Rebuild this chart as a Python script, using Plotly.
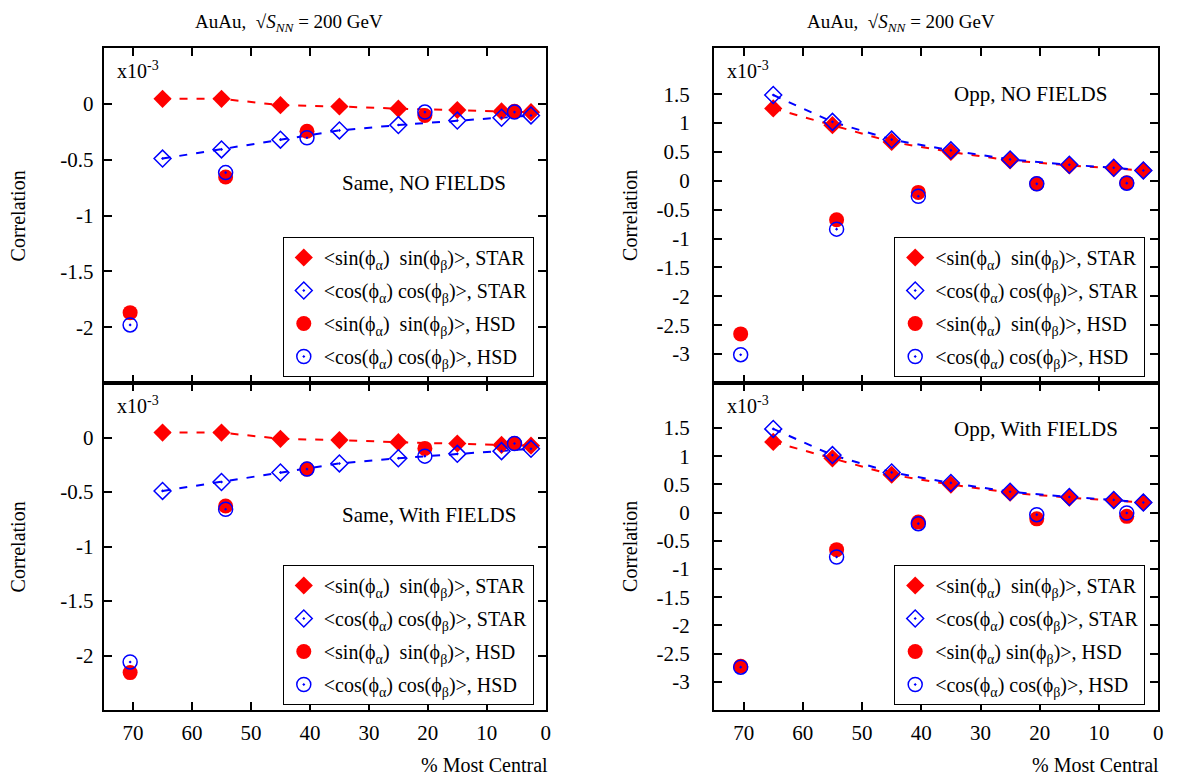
import plotly.graph_objects as go

# ---------------- data (x10^-3) ----------------
x_star = [65, 55, 45, 35, 25, 15, 7.5, 2.5]
x_hsd = [70.5, 54.3, 40.5, 20.5, 5.3]

same_star_sin = [0.045, 0.045, -0.012, -0.024, -0.043, -0.055, -0.068, -0.075]
same_star_cos = [-0.49, -0.408, -0.321, -0.238, -0.19, -0.15, -0.125, -0.104]
same_nf_hsd_sin = [-1.87, -0.655, -0.245, -0.104, -0.067]
same_nf_hsd_cos = [-1.98, -0.616, -0.304, -0.074, -0.074]
same_wf_hsd_sin = [-2.157, -0.628, -0.29, -0.10, -0.055]
same_wf_hsd_cos = [-2.06, -0.658, -0.29, -0.171, -0.055]

opp_star_sin = [1.254, 0.964, 0.673, 0.499, 0.354, 0.267, 0.221, 0.18]
opp_star_cos = [1.486, 1.021, 0.714, 0.528, 0.371, 0.279, 0.226, 0.18]
opp_nf_hsd_sin = [-2.65, -0.674, -0.2, -0.052, -0.035]
opp_nf_hsd_cos = [-3.01, -0.836, -0.267, -0.052, -0.04]
opp_wf_hsd_sin = [-2.725, -0.656, -0.167, -0.11, -0.065]
opp_wf_hsd_cos = [-2.74, -0.786, -0.195, -0.035, -0.006]

x_ticks = [70, 60, 50, 40, 30, 20, 10, 0]
same_yticks = [0, -0.5, -1, -1.5, -2]
opp_yticks = [1.5, 1, 0.5, 0, -0.5, -1, -1.5, -2, -2.5, -3]

panel_labels = ["Same, NO FIELDS", "Opp, NO FIELDS", "Same, With FIELDS", "Opp, With FIELDS"]
SS = "&lt;sin(\u03d5<sub>\u03b1</sub>)\u00a0 sin(\u03d5<sub>\u03b2</sub>)&gt;"
SS1 = "&lt;sin(\u03d5<sub>\u03b1</sub>) sin(\u03d5<sub>\u03b2</sub>)&gt;"
CC = "&lt;cos(\u03d5<sub>\u03b1</sub>) cos(\u03d5<sub>\u03b2</sub>)&gt;"

RED = "#ff0000"
BLUE = "#0000ff"
FONT = "Liberation Serif"

# page has an 8px body margin; figure sized to fill the rest of the window
OFF = 8
W, H = 1198 - OFF, 781 - OFF


def fx(p):
    return (p - OFF) / W


def fy(p):
    return (H - (p - OFF)) / H


xdom_left = [fx(104), fx(548)]
xdom_right = [fx(717), fx(1163)]
ydom_top = [fy(383), fy(48)]
ydom_bot = [fy(710), fy(383)]

fig = go.Figure()

panels = [
    ("x", "y", "legend", same_star_sin, same_star_cos, same_nf_hsd_sin, same_nf_hsd_cos, SS),
    ("x2", "y2", "legend2", opp_star_sin, opp_star_cos, opp_nf_hsd_sin, opp_nf_hsd_cos, SS),
    ("x3", "y3", "legend3", same_star_sin, same_star_cos, same_wf_hsd_sin, same_wf_hsd_cos, SS),
    ("x4", "y4", "legend4", opp_star_sin, opp_star_cos, opp_wf_hsd_sin, opp_wf_hsd_cos, SS1),
]

for xa, ya, lg, ssin, scos, hsin, hcos, sslab in panels:
    fig.add_trace(go.Scatter(x=x_star, y=ssin, mode="lines", xaxis=xa, yaxis=ya,
                             line=dict(color=RED, width=2, dash="8px,9px"), showlegend=False,
                             hoverinfo="skip"))
    fig.add_trace(go.Scatter(x=x_star, y=scos, mode="lines", xaxis=xa, yaxis=ya,
                             line=dict(color=BLUE, width=2, dash="8px,9px"), showlegend=False,
                             hoverinfo="skip"))
    fig.add_trace(go.Scatter(x=x_star, y=ssin, mode="markers", xaxis=xa, yaxis=ya, legend=lg,
                             name=SS + ", STAR", legendgroup=lg + "a",
                             marker=dict(symbol="diamond", size=14, color=RED, line=dict(width=0))))
    fig.add_trace(go.Scatter(x=x_star, y=scos, mode="markers", xaxis=xa, yaxis=ya, legend=lg,
                             name=CC + ", STAR", legendgroup=lg + "b",
                             marker=dict(symbol="diamond-open-dot", size=13, color=BLUE,
                                         line=dict(width=1.5, color=BLUE))))
    fig.add_trace(go.Scatter(x=x_hsd, y=hsin, mode="markers", xaxis=xa, yaxis=ya, legend=lg,
                             name=sslab + ", HSD", legendgroup=lg + "c",
                             marker=dict(symbol="circle", size=15, color=RED, line=dict(width=0))))
    fig.add_trace(go.Scatter(x=x_hsd, y=hcos, mode="markers", xaxis=xa, yaxis=ya, legend=lg,
                             name=CC + ", HSD", legendgroup=lg + "d",
                             marker=dict(symbol="circle-open-dot", size=14, color=BLUE,
                                         line=dict(width=1.5, color=BLUE))))

tickfont = dict(family=FONT, size=21, color="black")
common = dict(showline=True, linewidth=2, linecolor="black", mirror="ticks", ticks="inside",
              ticklen=8, tickwidth=1.5, tickcolor="black", showgrid=False, zeroline=False,
              tickfont=tickfont)


def xaxis(dom, anchor, labels):
    return dict(common, domain=dom, anchor=anchor, range=[75, 0], tickmode="array",
                tickvals=x_ticks, ticktext=[str(v) for v in x_ticks], showticklabels=labels,
                ticklabelstandoff=3)


def yaxis(dom, anchor, rng, tv, standoff):
    return dict(common, domain=dom, anchor=anchor, range=rng, tickmode="array", tickvals=tv,
                ticktext=[("%g" % v) for v in tv], ticklabelstandoff=standoff)


legend_common = dict(font=dict(family=FONT, size=20, color="black"), bgcolor="white",
                     bordercolor="black", borderwidth=1, xanchor="right", yanchor="bottom",
                     tracegroupgap=4, xref="paper", yref="paper")

fig.update_layout(
    width=W, height=H, margin=dict(l=0, r=0, t=0, b=0),
    plot_bgcolor="white", paper_bgcolor="white",
    xaxis=xaxis(xdom_left, "y", False),
    yaxis=yaxis(ydom_top, "x", [-2.5, 0.5], same_yticks, 4),
    xaxis2=xaxis(xdom_right, "y2", False),
    yaxis2=yaxis(ydom_top, "x2", [-3.5, 2.3], opp_yticks, 18),
    xaxis3=xaxis(xdom_left, "y3", True),
    yaxis3=yaxis(ydom_bot, "x3", [-2.5, 0.5], same_yticks, 4),
    xaxis4=xaxis(xdom_right, "y4", True),
    yaxis4=yaxis(ydom_bot, "x4", [-3.5, 2.3], opp_yticks, 18),
    legend=dict(legend_common, x=fx(536), y=fy(377)),
    legend2=dict(legend_common, x=fx(1150), y=fy(377)),
    legend3=dict(legend_common, x=fx(536), y=fy(705)),
    legend4=dict(legend_common, x=fx(1150), y=fy(705)),
)

ann = []
title = "AuAu,\u00a0 \u221a<i>S</i><sub><i>NN</i></sub> = 200 GeV"
for cx in (290, 905):
    ann.append(dict(text=title, x=fx(cx), y=fy(9), xref="paper", yref="paper",
                    xanchor="center", yanchor="top", showarrow=False,
                    font=dict(family=FONT, size=19, color="black")))
for cx in (18, 632):
    for cy in (215.5, 546.5):
        ann.append(dict(text="Correlation", x=fx(cx), y=fy(cy), xref="paper", yref="paper",
                        xanchor="center", yanchor="middle", textangle=-90, showarrow=False,
                        font=dict(family=FONT, size=20, color="black")))
for rx in (552, 1166):
    ann.append(dict(text="% Most Central", x=fx(rx), y=fy(765), xref="paper", yref="paper",
                    xanchor="right", yanchor="middle", showarrow=False,
                    font=dict(family=FONT, size=20, color="black")))
for xa, ya in (("x", "y"), ("x2", "y2"), ("x3", "y3"), ("x4", "y4")):
    ann.append(dict(text="x10<sup>-3</sup>", x=0.025, y=0.975, xref=xa + " domain",
                    yref=ya + " domain", xanchor="left", yanchor="top", showarrow=False,
                    font=dict(family=FONT, size=20, color="black")))
label_pos = [("x", "y", 0.598), ("x2", "y2", 0.862), ("x3", "y3", 0.596), ("x4", "y4", 0.859)]
for (xa, ya, yy), lab in zip(label_pos, panel_labels):
    ann.append(dict(text=lab, x=0.535, y=yy, xref=xa + " domain", yref=ya + " domain",
                    xanchor="left", yanchor="middle", showarrow=False,
                    font=dict(family=FONT, size=21, color="black")))
fig.update_layout(annotations=ann)

fig.write_html("out.html")
